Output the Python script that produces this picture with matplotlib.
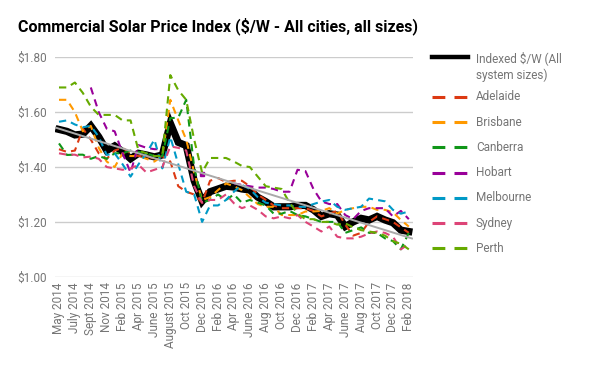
import numpy as np
import matplotlib
matplotlib.use("Agg")
import matplotlib.pyplot as plt
from matplotlib.lines import Line2D

nan = np.nan
months = ["May 2014", "June 2014", "July 2014", "Aug 2014", "Sept 2014", "Oct 2014", "Nov 2014", "Dec 2014",
          "Feb 2015", "Mar 2015", "Apr 2015", "May 2015", "June 2015", "July 2015", "August 2015", "Sept 2015",
          "Oct 2015", "Nov 2015", "Dec 2015", "Jan 2016", "Feb 2016", "Mar 2016", "Apr 2016", "May 2016",
          "June 2016", "July 2016", "Aug 2016", "Sept 2016", "Oct 2016", "Nov 2016", "Dec 2016", "Jan 2017",
          "Feb 2017", "Mar 2017", "Apr 2017", "May 2017", "June 2017", "July 2017", "Aug 2017", "Sept 2017",
          "Oct 2017", "Nov 2017", "Dec 2017", "Jan 2018", "Feb 2018"]

index_all = [1.537, 1.53, 1.517, 1.52, 1.55, 1.51, 1.46, 1.477, 1.456, 1.43, 1.45, 1.444, 1.437, 1.444, 1.56,
             1.49, 1.478, 1.35, 1.275, 1.31, 1.32, 1.33, 1.327, 1.32, 1.316, 1.29, 1.274, 1.255, 1.255, 1.255,
             1.26, 1.26, 1.244, 1.22, 1.23, 1.225, 1.183, 1.20, 1.213, 1.207, 1.22, 1.207, 1.197, 1.17, 1.165]
adelaide = [1.465, 1.455, 1.46, 1.54, 1.50, 1.45, 1.43, 1.46, 1.47, 1.45, 1.44, 1.44, 1.43, 1.44, 1.42,
            1.33, 1.31, 1.30, 1.27, 1.35, 1.36, 1.345, 1.35, 1.35, 1.33, 1.30, 1.28, 1.26, 1.25, 1.25,
            1.25, 1.25, 1.24, 1.22, 1.23, 1.24, 1.19, 1.15, 1.16, 1.20, 1.22, 1.21, 1.20, 1.18, 1.16]
brisbane = [1.645, 1.645, 1.60, 1.53, 1.55, 1.47, 1.42, 1.40, 1.45, 1.44, 1.44, 1.43, 1.42, 1.44, 1.645,
            1.57, 1.50, 1.38, 1.28, 1.29, 1.316, 1.34, 1.33, 1.316, 1.29, 1.265, 1.255, 1.255, 1.225, 1.225,
            1.225, 1.238, 1.238, 1.24, 1.25, 1.23, 1.244, 1.25, 1.255, 1.255, 1.244, 1.244, 1.235, 1.207, 1.183]
canberra = [1.486, 1.444, 1.445, 1.445, 1.43, 1.44, 1.43, 1.45, 1.45, 1.46, 1.455, 1.45, 1.44, 1.44, 1.578,
            1.58, 1.645, 1.40, 1.27, 1.28, 1.30, 1.28, 1.30, 1.27, 1.28, 1.27, 1.26, 1.23, 1.23, 1.24,
            1.225, 1.22, 1.21, 1.20, 1.20, 1.20, 1.16, 1.17, 1.18, 1.16, 1.16, 1.14, 1.13, 1.10, 1.16]
hobart = [nan, nan, nan, nan, 1.69, 1.60, 1.54, 1.53, 1.45, 1.38, 1.48, 1.47, 1.465, 1.465, nan,
          nan, nan, nan, 1.375, nan, nan, nan, 1.34, 1.335, 1.33, 1.325, 1.325, 1.32, 1.31, 1.31,
          1.39, 1.385, 1.32, 1.275, 1.265, 1.265, 1.225, 1.21, 1.24, 1.25, 1.25, 1.25, 1.22, 1.24, 1.21]
melbourne = [1.565, 1.57, 1.555, 1.545, 1.55, 1.51, 1.444, 1.45, 1.41, 1.365, 1.41, 1.45, 1.50, 1.395, 1.51,
             1.41, 1.31, 1.30, 1.20, 1.26, 1.26, 1.28, 1.31, 1.335, 1.32, 1.29, 1.27, 1.265, 1.26, 1.26,
             1.255, 1.255, 1.265, 1.274, 1.28, 1.255, 1.244, 1.25, 1.255, 1.285, 1.28, 1.275, 1.244, 1.23, 1.238]
sydney = [1.45, 1.445, 1.445, 1.435, 1.438, 1.43, 1.40, 1.395, 1.39, 1.395, 1.408, 1.38, 1.39, 1.40, 1.475,
          1.47, 1.46, 1.33, 1.27, 1.28, 1.28, 1.30, 1.268, 1.25, 1.26, 1.244, 1.22, 1.213, 1.22, 1.213,
          1.225, 1.20, 1.183, 1.165, 1.183, 1.146, 1.14, 1.14, 1.146, 1.158, 1.165, 1.16, 1.146, 1.10, 1.12]
perth = [1.69, 1.69, 1.708, 1.67, 1.62, 1.59, 1.59, 1.59, 1.57, 1.57, 1.46, 1.45, 1.44, 1.44, 1.735,
         1.68, 1.645, 1.50, 1.38, 1.433, 1.433, 1.433, 1.42, 1.404, 1.40, 1.365, 1.33, 1.325, 1.32, 1.27,
         1.23, 1.21, 1.21, 1.20, 1.20, 1.19, 1.195, 1.18, 1.17, 1.165, 1.16, 1.15, 1.13, 1.12, 1.10]

cities = ["Adelaide", "Brisbane", "Canberra", "Hobart", "Melbourne", "Sydney", "Perth"]
city_values = [adelaide, brisbane, canberra, hobart, melbourne, sydney, perth]
colors = ["#dc3912", "#ff9900", "#109618", "#990099", "#0099c6", "#dd4477", "#66aa00"]
yticks = [1.00, 1.20, 1.40, 1.60, 1.80]
index_label = "Indexed $/W (All\nsystem sizes)"

plt.rcParams['font.family'] = ['Roboto', 'DejaVu Sans']
W, H = 600, 371
fig = plt.figure(figsize=(W / 100, H / 100), dpi=100)
ax = fig.add_axes([0.0917, 0.254, 0.5963, 0.5916])

x = np.arange(len(months))
ax.plot(x, index_all, color="black", lw=5.2, solid_joinstyle="miter", zorder=3)
for vals, c in zip(city_values, colors):
    v = np.array(vals, dtype=float)
    ax.plot(x, v, color=c, lw=1.5, dashes=(3.5, 2.5), zorder=4)
    for i in range(len(v)):
        if not np.isnan(v[i]):
            left = i == 0 or np.isnan(v[i - 1])
            right = i == len(v) - 1 or np.isnan(v[i + 1])
            if left and right:
                ax.plot([i], [v[i]], marker="s", ms=2.5, color=c, zorder=4)

coef = np.polyfit(x, index_all, 1)
xt = np.array([-0.4, 44.4])
ax.plot(xt, np.polyval(coef, xt), color="#aaaaaa", lw=1.4, zorder=5)

ax.set_xlim(-0.5, 44.5)
ax.set_ylim(1.0, 1.8)
ax.set_yticks(yticks)
ax.set_yticklabels(["$%.2f" % t for t in yticks])
ax.set_xticks(x[::2])
ax.set_xticklabels(months[::2], rotation=90)
ax.grid(axis="y", color="#cccccc", lw=1)
ax.set_axisbelow(True)
for s in ax.spines.values():
    s.set_visible(False)
ax.tick_params(length=0, labelsize=8.5, colors="#757575", pad=4)
ax.tick_params(axis="y", pad=6)

fig.text(0.03, 0.915, "Commercial Solar Price Index ($/W - All cities, all sizes)",
         fontsize=11.5, fontweight="bold", color="black")

# legend drawn manually (pixel layout)
def fx(px):
    return px / W

def fy(py):
    return 1 - py / H

hx0, hx1, tx = 432, 468, 476
fig.add_artist(Line2D([fx(hx0), fx(hx1)], [fy(57), fy(57)], color="black", lw=3.2,
                      transform=fig.transFigure))
fig.text(fx(tx), fy(51), index_label, fontsize=8.5, color="#757575", va="top",
         linespacing=1.3)
for k, (name, c) in enumerate(zip(cities, colors)):
    yy = 97 + 25.2 * k
    fig.add_artist(Line2D([fx(hx0), fx(hx1)], [fy(yy), fy(yy)], color=c, lw=2.2,
                          dashes=(4.2, 3.0), transform=fig.transFigure))
    fig.text(fx(tx), fy(yy), name, fontsize=8.5, color="#757575", va="center")

fig.savefig("out.png", dpi=100)
